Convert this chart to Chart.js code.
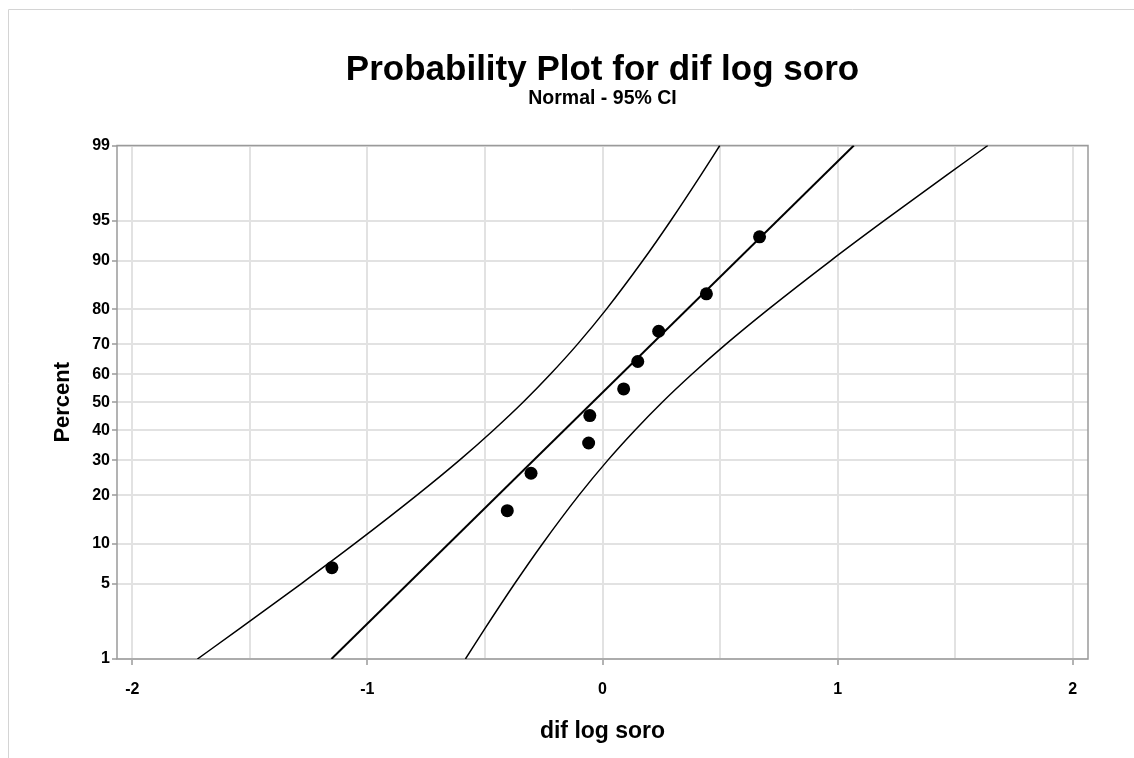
<!DOCTYPE html>
<html><head><meta charset="utf-8">
<script src="https://cdn.jsdelivr.net/npm/chart.js@4.4.1/dist/chart.umd.min.js"></script>
<style>html,body{margin:0;padding:0;background:#fff;}#wrap{position:relative;width:1134px;height:758px;}canvas{display:block;}</style>
</head><body><div id="wrap"><canvas id="c" width="1134" height="758"></canvas></div>
<script>
// ---- data ----
const dataX = [-1.151, -0.405, -0.304, -0.059, -0.054, 0.090, 0.150, 0.239, 0.442, 0.668];
const dataPercent = [6.7, 16.3, 26.0, 35.6, 45.2, 54.8, 64.4, 74.0, 83.7, 93.3];
const fitX = [-1.153, 1.069];
const fitPercent = [1, 99];
const bandPercent = [1, 2, 5, 10, 20, 30, 40, 50, 60, 70, 80, 90, 95, 98, 99];
const lowerBandX = [-1.723, -1.545, -1.282, -1.054, -0.789, -0.608, -0.464, -0.338, -0.222, -0.107, 0.016, 0.171, 0.290, 0.417, 0.499];
const upperBandX = [-0.583, -0.501, -0.374, -0.255, -0.100, 0.023, 0.138, 0.254, 0.380, 0.524, 0.705, 0.970, 1.198, 1.461, 1.639];
const yTickPercent = [1, 5, 10, 20, 30, 40, 50, 60, 70, 80, 90, 95, 99];
const xTickValues = [-2, -1.5, -1, -0.5, 0, 0.5, 1, 1.5, 2];
const xLabelValues = [-2, -1, 0, 1, 2];

// normal probability axis transform (percent -> standard normal quantile)
function qnorm(p){
  const a=[-3.969683028665376e+01,2.209460984245205e+02,-2.759285104469687e+02,1.383577518672690e+02,-3.066479806614716e+01,2.506628277459239e+00];
  const b=[-5.447609879822406e+01,1.615858368580409e+02,-1.556989798598866e+02,6.680131188771972e+01,-1.328068155288572e+01];
  const c=[-7.784894002430293e-03,-3.223964580411365e-01,-2.400758296215483e+00,-2.549732539343734e+00,4.374664141464968e+00,2.938163982698783e+00];
  const d=[7.784695709041462e-03,3.224671290700398e-01,2.445134137142996e+00,3.754408661907416e+00];
  const pl=0.02425, ph=1-pl; let q,r;
  if(p<pl){q=Math.sqrt(-2*Math.log(p));return (((((c[0]*q+c[1])*q+c[2])*q+c[3])*q+c[4])*q+c[5])/((((d[0]*q+d[1])*q+d[2])*q+d[3])*q+1);}
  if(p<=ph){q=p-0.5;r=q*q;return (((((a[0]*r+a[1])*r+a[2])*r+a[3])*r+a[4])*r+a[5])*q/(((((b[0]*r+b[1])*r+b[2])*r+b[3])*r+b[4])*r+1);}
  q=Math.sqrt(-2*Math.log(1-p));return -(((((c[0]*q+c[1])*q+c[2])*q+c[3])*q+c[4])*q+c[5])/((((d[0]*q+d[1])*q+d[2])*q+d[3])*q+1);
}
const zp = pct => qnorm(pct/100);
const pts = (xs, ps) => xs.map((x,i)=>({x:x, y:zp(ps[i])}));

const FONT = "'Liberation Sans', Arial, sans-serif";

const framePlugin = {
  id:'frame',
  beforeDraw(chart){
    const ctx=chart.ctx; ctx.save();
    ctx.strokeStyle='#d4d4d4'; ctx.lineWidth=1;
    ctx.beginPath(); ctx.moveTo(8.5,758); ctx.lineTo(8.5,9.5); ctx.lineTo(1134,9.5); ctx.stroke();
    ctx.restore();
  },
  beforeDatasetsDraw(chart){
    const {ctx, chartArea:a} = chart; ctx.save();
    ctx.strokeStyle='#9a9a9a'; ctx.lineWidth=1.5;
    ctx.strokeRect(a.left, a.top, a.right-a.left, a.bottom-a.top);
    ctx.restore();
  }
};

new Chart(document.getElementById('c'), {
  type:'scatter',
  data:{datasets:[
    {data:pts(lowerBandX, bandPercent), showLine:true, borderColor:'#000', borderWidth:1.5, pointRadius:0, cubicInterpolationMode:'monotone'},
    {data:pts(upperBandX, bandPercent), showLine:true, borderColor:'#000', borderWidth:1.5, pointRadius:0, cubicInterpolationMode:'monotone'},
    {data:pts(fitX, fitPercent), showLine:true, borderColor:'#000', borderWidth:2, pointRadius:0},
    {data:pts(dataX, dataPercent), showLine:false, pointRadius:6.5, pointBackgroundColor:'#000', pointBorderWidth:0, pointHoverRadius:6.5}
  ]},
  options:{
    responsive:false, animation:false, events:[],
    layout:{padding:{left:0,right:46,top:0,bottom:0}},
    plugins:{
      legend:{display:false}, tooltip:{enabled:false},
      title:{display:true, fullSize:false, text:'Probability Plot for dif log soro', color:'#000',
        font:{family:FONT, size:35, weight:'bold', lineHeight:1.0}, padding:{top:52.5,bottom:0}},
      subtitle:{display:true, fullSize:false, text:'Normal - 95% CI', color:'#000',
        font:{family:FONT, size:19.5, weight:'bold', lineHeight:1.0}, padding:{top:1.5,bottom:37}}
    },
    scales:{
      x:{type:'linear', min:-2.065, max:2.065,
        afterBuildTicks:s=>{s.ticks=xTickValues.map(v=>({value:v}));},
        afterFit:s=>{s.height=99;},
        ticks:{autoSkip:false, maxRotation:0, padding:15.4, color:'#000',
          font:{family:FONT,size:16,weight:'bold',lineHeight:1.2},
          callback:v=>xLabelValues.includes(v)?String(v):''},
        grid:{color:'#e2e2e2', lineWidth:2, tickLength:6,
          tickColor:ctx=>(ctx.tick && xLabelValues.includes(ctx.tick.value))?'#9a9a9a':'rgba(0,0,0,0)', tickWidth:1.5},
        border:{display:false},
        title:{display:true, text:'dif log soro', color:'#000',
          font:{family:FONT,size:23,weight:'bold',lineHeight:1.2}, padding:{top:0,bottom:13}}
      },
      y:{type:'linear', min:zp(1), max:zp(99),
        afterBuildTicks:s=>{s.ticks=yTickPercent.map(p=>({value:zp(p)}));},
        afterFit:s=>{s.width=117;},
        ticks:{autoSkip:false, padding:2, color:'#000',
          font:{family:FONT,size:16,weight:'bold',lineHeight:1.2},
          callback:(v,i)=>String(yTickPercent[i])},
        grid:{color:'#e2e2e2', lineWidth:2, tickLength:5, tickColor:'#9a9a9a', tickWidth:1.5},
        border:{display:false},
        title:{display:true, text:'Percent', color:'#000',
          font:{family:FONT,size:22,weight:'bold',lineHeight:1.2}, padding:{top:49.8,bottom:0}}
      }
    }
  },
  plugins:[framePlugin]
});
</script></body></html>
